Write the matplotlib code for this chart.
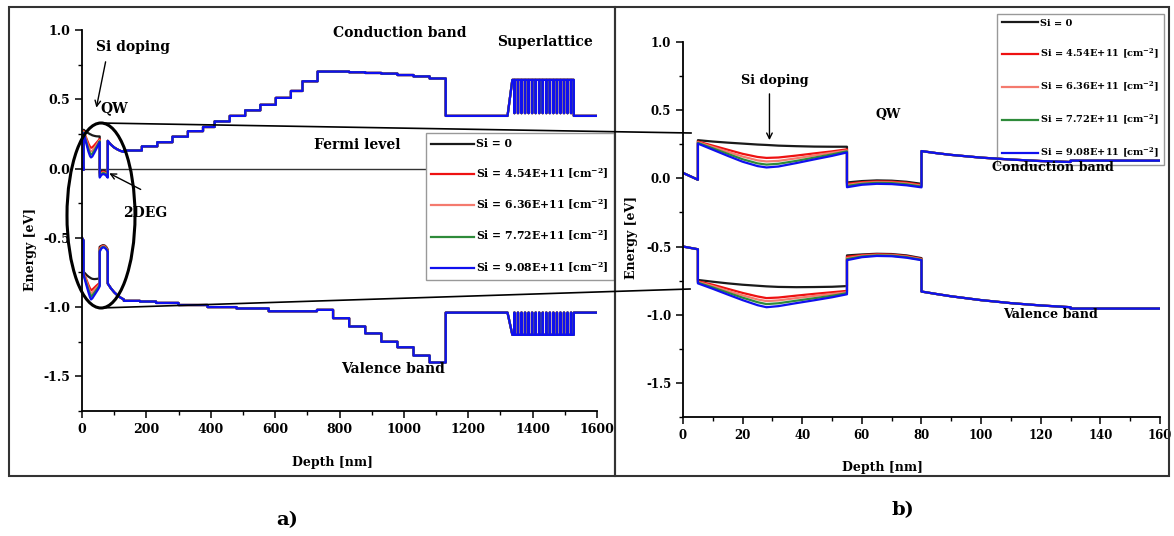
import numpy as np
import matplotlib
matplotlib.use("Agg")
import matplotlib.pyplot as plt
from matplotlib.patches import Ellipse, Rectangle
from matplotlib.lines import Line2D

plt.rcParams["font.family"] = ["DejaVu Serif"]
plt.rcParams["font.weight"] = "bold"
plt.rcParams["axes.labelweight"] = "bold"
plt.rcParams["axes.unicode_minus"] = False
plt.rcParams["mathtext.fontset"] = "dejavuserif"
plt.rcParams["mathtext.default"] = "bf"

W, H = 1174, 536

# ---- series ----
labels = ["Si = 0",
          r"Si = 4.54E+11 [cm$^{-2}$]",
          r"Si = 6.36E+11 [cm$^{-2}$]",
          r"Si = 7.72E+11 [cm$^{-2}$]",
          r"Si = 9.08E+11 [cm$^{-2}$]"]
colors = ["#1a1a1a", "#ee1111", "#f47a6e", "#2e8b3a", "#1010ee"]

# cap layer 0-5 nm
cap_x = [0, 5]
cb_cap = [0.04, -0.01]
vb_cap = [-0.50, -0.52]

# doped barrier 5-55 nm
bar_x = [5, 10, 15, 20, 25, 28, 32, 38, 44, 50, 55]
cb_bar = [
    [0.28, 0.27, 0.262, 0.255, 0.248, 0.245, 0.24, 0.236, 0.233, 0.232, 0.232],
    [0.27, 0.24, 0.21, 0.18, 0.157, 0.15, 0.153, 0.167, 0.183, 0.198, 0.213],
    [0.265, 0.23, 0.195, 0.16, 0.132, 0.124, 0.128, 0.147, 0.168, 0.188, 0.205],
    [0.26, 0.22, 0.18, 0.14, 0.11, 0.101, 0.107, 0.128, 0.152, 0.176, 0.198],
    [0.255, 0.21, 0.165, 0.122, 0.09, 0.08, 0.087, 0.112, 0.139, 0.165, 0.19],
]
vb_bar = [
    [-0.745, -0.758, -0.77, -0.78, -0.788, -0.792, -0.796, -0.798, -0.797, -0.795, -0.79],
    [-0.755, -0.78, -0.81, -0.84, -0.866, -0.878, -0.874, -0.86, -0.847, -0.835, -0.825],
    [-0.76, -0.79, -0.825, -0.858, -0.888, -0.9, -0.895, -0.878, -0.862, -0.848, -0.835],
    [-0.765, -0.8, -0.838, -0.875, -0.908, -0.922, -0.916, -0.897, -0.879, -0.861, -0.842],
    [-0.77, -0.81, -0.852, -0.893, -0.93, -0.945, -0.937, -0.915, -0.894, -0.872, -0.85],
]

# quantum well 55-80 nm
qw_x = [55, 60, 65, 70, 75, 80]
cb_qw = [
    [-0.03, -0.02, -0.015, -0.017, -0.025, -0.04],
    [-0.04, -0.028, -0.022, -0.024, -0.032, -0.048],
    [-0.048, -0.034, -0.028, -0.03, -0.038, -0.054],
    [-0.056, -0.04, -0.033, -0.035, -0.044, -0.06],
    [-0.065, -0.047, -0.04, -0.042, -0.051, -0.066],
]
vb_qw = [
    [-0.565, -0.558, -0.553, -0.555, -0.565, -0.585],
    [-0.575, -0.563, -0.557, -0.559, -0.57, -0.59],
    [-0.585, -0.568, -0.561, -0.563, -0.574, -0.594],
    [-0.592, -0.573, -0.565, -0.567, -0.578, -0.597],
    [-0.6, -0.578, -0.569, -0.571, -0.582, -0.6],
]

# back barrier 80-130 nm (same for all)
post_x = [80, 85, 90, 100, 110, 120, 130]
cb_post = [0.20, 0.185, 0.172, 0.152, 0.138, 0.127, 0.12]
vb_post = [-0.83, -0.848, -0.865, -0.893, -0.915, -0.932, -0.945]

# graded buffer staircase
cb_edges = [130, 186, 234, 281, 329, 376, 412, 459, 507, 554, 602, 649, 685, 732,
            830, 880, 930, 980, 1030, 1080, 1130, 1322]
cb_levels = [0.13, 0.16, 0.19, 0.23, 0.27, 0.30, 0.34, 0.38, 0.42, 0.46, 0.51, 0.56,
             0.63, 0.70, 0.695, 0.69, 0.685, 0.675, 0.665, 0.65, 0.38]
vb_edges = [130, 180, 230, 300, 390, 480, 580, 730, 780, 830, 880, 930, 980, 1030,
            1080, 1130, 1322]
vb_levels = [-0.955, -0.96, -0.97, -0.985, -1.0, -1.01, -1.03, -1.02, -1.08, -1.14,
             -1.19, -1.25, -1.29, -1.35, -1.40, -1.04]

# superlattice
sl_ramp = [1322, 1337]
sl_wells = [1343, 1354, 1365, 1376, 1387, 1398, 1409, 1420, 1431, 1442, 1453,
            1464, 1475, 1486, 1497, 1508, 1519]
sl_well_w = 1
sl_end = 1528
cb_sl_barrier, cb_sl_well = 0.64, 0.40
vb_sl_barrier, vb_sl_well = -1.20, -1.04
cb_tail, vb_tail = 0.38, -1.04
x_end = 1600


def stairs(edges, levels):
    xs, ys = [], []
    for i, lv in enumerate(levels):
        xs += [edges[i], edges[i + 1]]
        ys += [lv, lv]
    return xs, ys


def superlattice(low, barrier, well, tail):
    xs = [sl_ramp[0], sl_ramp[1]]
    ys = [low, barrier]
    for w in sl_wells:
        xs += [w, w, w + sl_well_w, w + sl_well_w]
        ys += [barrier, well, well, barrier]
    xs += [sl_end, sl_end, x_end]
    ys += [barrier, tail, tail]
    return xs, ys


cbs_x, cbs_y = stairs(cb_edges, cb_levels)
vbs_x, vbs_y = stairs(vb_edges, vb_levels)
cbl_x, cbl_y = superlattice(cb_levels[-1], cb_sl_barrier, cb_sl_well, cb_tail)
vbl_x, vbl_y = superlattice(vb_levels[-1], vb_sl_barrier, vb_sl_well, vb_tail)


def band(k, which):
    if which == "cb":
        x = cap_x + bar_x + qw_x + post_x + cbs_x + cbl_x
        y = cb_cap + cb_bar[k] + cb_qw[k] + cb_post + cbs_y + cbl_y
    else:
        x = cap_x + bar_x + qw_x + post_x + vbs_x + vbl_x
        y = vb_cap + vb_bar[k] + vb_qw[k] + vb_post + vbs_y + vbl_y
    return np.array(x), np.array(y)


fig = plt.figure(figsize=(W / 100, H / 100), dpi=100)
ax1 = fig.add_axes([82 / W, 1 - 411 / H, 515 / W, 381 / H])
ax2 = fig.add_axes([683 / W, 1 - 417 / H, 477 / W, 375 / H])

for ax in (ax1, ax2):
    handles = []
    for k in range(5):
        x, y = band(k, "cb")
        h, = ax.plot(x, y, color=colors[k], lw=1.6, label=labels[k])
        handles.append(h)
        x, y = band(k, "vb")
        ax.plot(x, y, color=colors[k], lw=1.6)
    ax.set_ylim(-1.75, 1.0)
    ax.set_yticks([-1.5, -1.0, -0.5, 0.0, 0.5, 1.0])
    ax.set_yticks([-1.75, -1.25, -0.75, -0.25, 0.25, 0.75], minor=True)
    for s in ("top", "right"):
        ax.spines[s].set_visible(False)
    for s in ("left", "bottom"):
        ax.spines[s].set_linewidth(1.3)
    ax.tick_params(which="major", direction="out", length=5, width=1.1)
    ax.tick_params(which="minor", direction="out", length=3, width=1.0)
    ax.set_xlabel("Depth [nm]", fontsize=9)
    ax.set_ylabel("Energy [eV]", fontsize=9)

# left panel
ax1.plot([0, 1600], [0, 0], color="#333333", lw=1.0, zorder=1)
ax1.set_xlim(0, 1600)
ax1.set_xticks(range(0, 1601, 200))
ax1.set_xticks(range(100, 1600, 200), minor=True)
ax1.tick_params(labelsize=9)
ax1.xaxis.set_label_coords(0.487, -0.118)
ax1.yaxis.set_label_coords(-0.087, 0.425)

ax1.text(988, 0.978, "Conduction band", ha="center", va="center", fontsize=10)
ax1.text(1438, 0.913, "Superlattice", ha="center", va="center", fontsize=10)
ax1.text(158, 0.877, "Si doping", ha="center", va="center", fontsize=10)
ax1.text(99, 0.436, "QW", ha="center", va="center", fontsize=10)
ax1.text(854, 0.168, "Fermi level", ha="center", va="center", fontsize=10)
ax1.text(196, -0.324, "2DEG", ha="center", va="center", fontsize=10)
ax1.text(966, -1.446, "Valence band", ha="center", va="center", fontsize=10)
ax1.annotate("", xy=(43, 0.42), xytext=(75, 0.79),
             arrowprops=dict(arrowstyle="->", lw=1.0, color="k"), annotation_clip=False)
ax1.annotate("", xy=(77, -0.025), xytext=(190, -0.16),
             arrowprops=dict(arrowstyle="->", lw=1.0, color="k"), annotation_clip=False)

leg1 = ax1.legend(handles=handles, loc="upper left",
                  bbox_to_anchor=(426 / W, 1 - 133 / H), bbox_transform=fig.transFigure,
                  fancybox=False, framealpha=1, edgecolor="#999999", fontsize=7.8,
                  handlelength=3.9, handletextpad=0.25, labelspacing=1.55,
                  borderpad=0.5, borderaxespad=0)
leg1.get_frame().set_linewidth(1.0)

# right panel
ax2.set_xlim(0, 160)
ax2.set_xticks(range(0, 161, 20))
ax2.set_xticks(range(10, 160, 20), minor=True)
ax2.tick_params(labelsize=8.5)
ax2.xaxis.set_label_coords(0.419, -0.117)
ax2.yaxis.set_label_coords(-0.094, 0.48)

ax2.text(30.9, 0.72, "Si doping", ha="center", va="center", fontsize=9.2)
ax2.text(68.8, 0.465, "QW", ha="center", va="center", fontsize=9.2)
ax2.text(124, 0.08, "Conduction band", ha="center", va="center", fontsize=9.2, zorder=6)
ax2.text(123.4, -1.0, "Valence band", ha="center", va="center", fontsize=9.2)
ax2.annotate("", xy=(29, 0.26), xytext=(29, 0.64),
             arrowprops=dict(arrowstyle="->", lw=1.0, color="k"))

leg2 = ax2.legend(handles=handles, loc="upper left",
                  bbox_to_anchor=(997 / W, 1 - 14 / H), bbox_transform=fig.transFigure,
                  fancybox=False, framealpha=1, edgecolor="#999999", fontsize=7.0,
                  handlelength=3.7, handletextpad=0.2, labelspacing=1.95,
                  borderpad=0.5, borderaxespad=0)
leg2.get_frame().set_linewidth(1.0)
leg2.set_zorder(1.5)  # band lines pass over the legend's lower edge, as in the original

# frames, zoom ellipse and connecting lines
fig.add_artist(Rectangle((9 / W, 1 - 476 / H), 606 / W, 469 / H, transform=fig.transFigure,
                         fill=False, ec="#333333", lw=1.5))
fig.add_artist(Rectangle((615 / W, 1 - 476 / H), 554 / W, 469 / H, transform=fig.transFigure,
                         fill=False, ec="#333333", lw=1.5))
fig.add_artist(Ellipse((101 / W, 1 - 215.5 / H), 68 / W, 185 / H, transform=fig.transFigure,
                       fill=False, ec="k", lw=2.2))
fig.add_artist(Line2D([100 / W, 691 / W], [1 - 123 / H, 1 - 133 / H],
                      transform=fig.transFigure, color="k", lw=1.2))
fig.add_artist(Line2D([100 / W, 690 / W], [1 - 308 / H, 1 - 289 / H],
                      transform=fig.transFigure, color="k", lw=1.2))

fig.text(287 / W, 1 - 520 / H, "a)", ha="center", va="center", fontsize=14)
fig.text(903 / W, 1 - 510 / H, "b)", ha="center", va="center", fontsize=14)

fig.savefig("out.png", dpi=100)
